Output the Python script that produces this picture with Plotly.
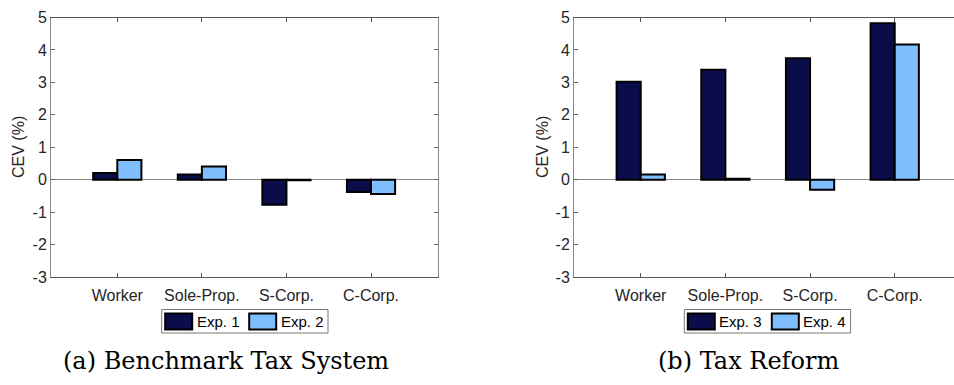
import plotly.graph_objects as go

W, H = 954, 385

categories = ["Worker", "Sole-Prop.", "S-Corp.", "C-Corp."]
exp1 = [0.21, 0.16, -0.77, -0.38]
exp2 = [0.61, 0.41, -0.02, -0.44]
exp3 = [3.02, 3.39, 3.74, 4.82]
exp4 = [0.16, 0.03, -0.31, 4.17]
legend_left = ["Exp. 1", "Exp. 2"]
legend_right = ["Exp. 3", "Exp. 4"]
captions = ["(a) Benchmark Tax System", "(b) Tax Reform"]
y_ticks = [-3, -2, -1, 0, 1, 2, 3, 4, 5]
y_ticktext = ["-3", "-2", "-1", "0", "1", "2", "3", "4", "5"]

DARK = "#0a0d4a"
LIGHT = "#80bfff"
AX = "#262626"
FONT = "Liberation Sans, Arial, sans-serif"


def fx(p):
    return p / W


def fy(p):
    return 1 - p / H


fig = go.Figure()
for vals, col, xa, ya in [(exp1, DARK, "x", "y"), (exp2, LIGHT, "x", "y"),
                          (exp3, DARK, "x2", "y2"), (exp4, LIGHT, "x2", "y2")]:
    fig.add_trace(go.Bar(x=categories, y=vals, marker=dict(color=col, line=dict(color="black", width=2)),
                         xaxis=xa, yaxis=ya, showlegend=False))

ydom = [fy(277), fy(17.5)]
xcommon = dict(type="category", showline=True, linecolor="#555", linewidth=1, ticks="inside", ticklen=4,
               tickcolor="#555", showgrid=False, zeroline=False, ticklabelstandoff=4, automargin=False,
               tickfont=dict(family=FONT, size=16, color=AX))
ycommon = dict(range=[-3, 5], tickvals=y_ticks, ticktext=y_ticktext, showline=True, linecolor="#888",
               linewidth=1, ticks="inside", ticklen=4, tickcolor="#666", showgrid=False, zeroline=True,
               zerolinecolor="#888", zerolinewidth=1, domain=ydom, automargin=False,
               tickfont=dict(family=FONT, size=16, color=AX))

fig.update_layout(
    template="none",
    width=W, height=H, margin=dict(l=0, r=0, t=0, b=0, pad=0, autoexpand=False),
    paper_bgcolor="white", plot_bgcolor="white",
    barmode="group", bargap=0.43, bargroupgap=0,
    xaxis=dict(domain=[fx(51), fx(438)], range=[-0.784, 3.792], anchor="y", mirror="ticks", **xcommon),
    yaxis=dict(anchor="x", mirror="ticks", **ycommon),
    xaxis2=dict(domain=[fx(574), 1.0], range=[-0.788, 3.70], anchor="y2", mirror="ticks", **xcommon),
    yaxis2=dict(anchor="x2", mirror=False, **ycommon),
)

annotations = []
shapes = []
# y-axis titles
for xc in [18, 542]:
    annotations.append(dict(text="CEV (%)", x=fx(xc), y=fy(147), xref="paper", yref="paper", showarrow=False,
                            textangle=-90, font=dict(family=FONT, size=16, color=AX),
                            xanchor="center", yanchor="middle"))

# legends (manual, MATLAB style wide patches)
for L, labels in [(161.7, legend_left), (684.3, legend_right)]:
    top, bot = 309.5, 333
    shapes.append(dict(type="rect", xref="paper", yref="paper", x0=fx(L), x1=fx(L + 166.3), y0=fy(bot), y1=fy(top),
                       line=dict(color="#777", width=1), fillcolor="white"))
    for i, (lab, col) in enumerate(zip(labels, [DARK, LIGHT])):
        p0 = L + 3.5 + i * 84
        shapes.append(dict(type="rect", xref="paper", yref="paper", x0=fx(p0), x1=fx(p0 + 27), y0=fy(329.5),
                           y1=fy(313.5), line=dict(color="black", width=2), fillcolor=col))
        annotations.append(dict(text=lab, x=fx(p0 + 29.5), y=fy(321.5), xref="paper", yref="paper",
                                showarrow=False, xanchor="left", yanchor="middle",
                                font=dict(family=FONT, size=15, color="black")))

# captions
for cap, xc in zip(captions, [226, 748.5]):
    annotations.append(dict(text=cap, x=fx(xc), y=fy(361), xref="paper", yref="paper", showarrow=False,
                            xanchor="center", yanchor="middle",
                            font=dict(family="DejaVu Serif, serif", size=24, color="black")))

fig.update_layout(annotations=annotations, shapes=shapes)
fig.write_html("out.html")
